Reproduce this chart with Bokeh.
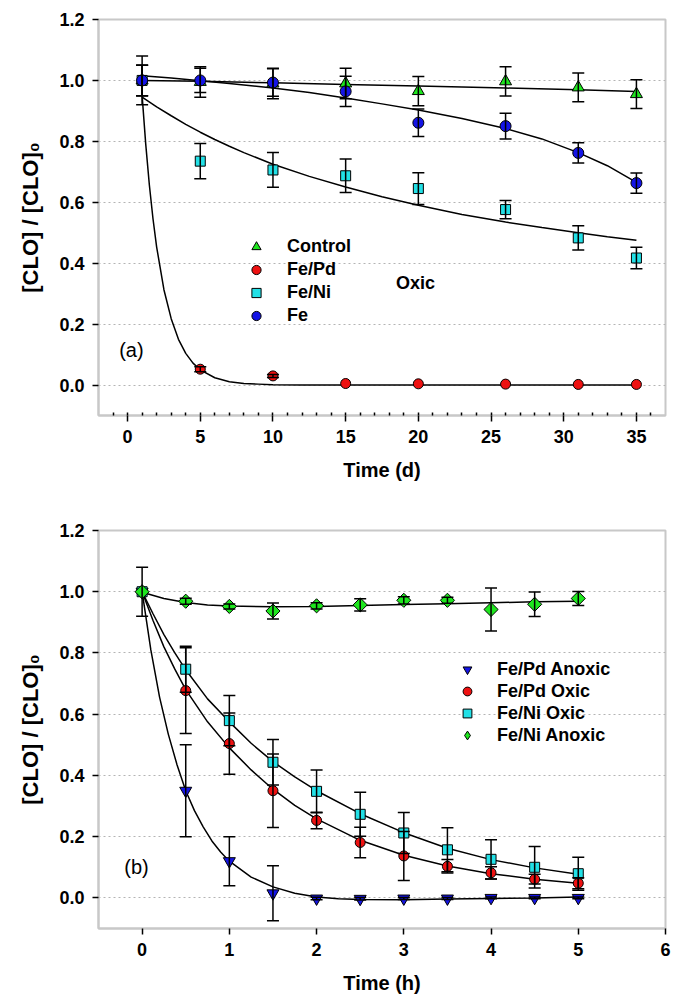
import math
from bokeh.plotting import figure
from bokeh.models import (ColumnDataSource, Whisker, TeeHead, FixedTicker, Legend,
                          LegendItem, Label, PrintfTickFormatter, Range1d)
from bokeh.layouts import column
from bokeh.embed import file_html
from bokeh.resources import INLINE

FONT = "Liberation Sans"

# ---------------- Panel (a): Oxic, time in days ----------------
days = [1, 5, 10, 15, 20, 26, 31, 35]
control = [1.0, 0.995, 0.99, 0.99, 0.965, 0.997, 0.977, 0.955]
control_err = [0.08, 0.05, 0.05, 0.05, 0.048, 0.048, 0.047, 0.047]
fepd_a = [1.0, 0.052, 0.03, 0.005, 0.004, 0.003, 0.002, 0.002]
fepd_a_err = [0.05, 0.008, 0.005, 0.0, 0.0, 0.0, 0.0, 0.0]
feni_a = [1.0, 0.735, 0.706, 0.687, 0.645, 0.576, 0.483, 0.417]
feni_a_err = [0.05, 0.058, 0.057, 0.055, 0.052, 0.03, 0.04, 0.035]
fe = [1.0, 1.0, 0.993, 0.964, 0.861, 0.85, 0.762, 0.663]
fe_err = [0.05, 0.04, 0.045, 0.05, 0.045, 0.042, 0.033, 0.033]

# fitted curves
ctrl_fit_x = [1, 5, 10, 15, 20, 26, 31, 35]
ctrl_fit_y = [1.000, 0.997, 0.992, 0.987, 0.982, 0.975, 0.969, 0.964]
fe_fit_x = [1, 3, 5, 7, 10, 12.5, 15, 17.5, 20, 23, 26, 28.5, 31, 33, 35]
fe_fit_y = [1.015, 1.008, 0.999, 0.99, 0.975, 0.96, 0.942, 0.923, 0.903, 0.875,
            0.842, 0.808, 0.763, 0.72, 0.665]
feni_fit_x = [1, 2, 3, 4, 5, 6, 7, 8, 10, 12.5, 15, 17.5, 20, 23, 26, 28.5, 31, 33, 35]
feni_fit_y = [0.945, 0.913, 0.884, 0.856, 0.83, 0.806, 0.784, 0.763, 0.725, 0.685,
              0.65, 0.618, 0.59, 0.56, 0.535, 0.517, 0.50, 0.487, 0.475]
fepd_fit_x = [1, 1.25, 1.5, 1.75, 2, 2.5, 3, 3.5, 4, 4.5, 5, 6, 7, 8, 9, 10, 12, 15,
              20, 26, 31, 35]
fepd_fit_y = [0.95, 0.79, 0.656, 0.545, 0.453, 0.313, 0.218, 0.150, 0.104, 0.072,
              0.050, 0.024, 0.011, 0.005, 0.003, 0.001, 0.0, 0.0, 0.0, 0.0, 0.0, 0.0]

# ---------------- Panel (b): time in hours ----------------
hours = [0, 0.5, 1, 1.5, 2, 2.5, 3, 3.5, 4, 4.5, 5]
fepd_anox = [1.0, 0.35, 0.12, 0.015, -0.002, -0.003, -0.002, -0.002, 0.0, 0.0, 0.0]
fepd_anox_err = [0.0, 0.15, 0.08, 0.09, 0.004, 0.004, 0.003, 0.003, 0.003, 0.003, 0.003]
fepd_ox = [1.0, 0.677, 0.504, 0.35, 0.253, 0.181, 0.137, 0.103, 0.082, 0.061, 0.048]
fepd_ox_err = [0.0, 0.14, 0.1, 0.12, 0.027, 0.05, 0.08, 0.022, 0.02, 0.016, 0.018]
feni_ox = [1.0, 0.747, 0.579, 0.443, 0.348, 0.273, 0.212, 0.157, 0.126, 0.10, 0.079]
feni_ox_err = [0.0, 0.075, 0.082, 0.074, 0.07, 0.072, 0.067, 0.072, 0.064, 0.068, 0.054]
feni_anox = [1.0, 0.969, 0.952, 0.937, 0.954, 0.957, 0.972, 0.972, 0.942, 0.959, 0.978]
feni_anox_err = [0.08, 0.01, 0.008, 0.026, 0.01, 0.02, 0.012, 0.01, 0.07, 0.04, 0.023]

fepd_anox_fit_x = [0, 0.1, 0.2, 0.3, 0.4, 0.5, 0.6, 0.7, 0.8, 0.9, 1.0, 1.25, 1.5,
                   1.75, 2, 2.25, 2.5, 3, 3.5, 4, 4.5, 5]
fepd_anox_fit_y = [1.0, 0.81, 0.656, 0.535, 0.435, 0.35, 0.285, 0.232, 0.186, 0.15,
                   0.12, 0.068, 0.036, 0.015, 0.003, -0.003, -0.005, -0.006, -0.004,
                   -0.002, 0.0, 0.003]
ox_fit_x = [0, 0.125, 0.25, 0.375, 0.5, 0.75, 1, 1.25, 1.5, 1.75, 2, 2.5, 3, 3.5, 4, 4.5, 5]
fepd_ox_fit_y = [1.0, 0.906, 0.82, 0.747, 0.68, 0.575, 0.49, 0.418, 0.355, 0.302, 0.258,
                 0.188, 0.139, 0.104, 0.079, 0.061, 0.048]
feni_ox_fit_y = [1.0, 0.928, 0.86, 0.80, 0.745, 0.65, 0.575, 0.505, 0.445, 0.395, 0.35,
                 0.275, 0.213, 0.162, 0.125, 0.098, 0.077]
feni_anox_fit_x = [0, 0.25, 0.5, 0.75, 1, 1.5, 2, 2.5, 3, 3.5, 4, 4.5, 5]
feni_anox_fit_y = [0.998, 0.978, 0.965, 0.957, 0.953, 0.951, 0.952, 0.955, 0.958,
                   0.961, 0.964, 0.967, 0.969]

y_ticks = [0.0, 0.2, 0.4, 0.6, 0.8, 1.0, 1.2]
grid_ticks = [0.0, 0.2, 0.4, 0.6, 0.8, 1.0]
x_ticks_a = [0, 5, 10, 15, 20, 25, 30, 35]
x_ticks_b = [0, 1, 2, 3, 4, 5, 6]

GREEN = "#1ee61e"
RED = "#ee1111"
CYAN = "#22e0e6"
BLUE = "#1414e6"
FRAME = "#c8c8c8"


def make_fig(xr, fh, bt, bb, xlabel):
    p = figure(frame_width=567, frame_height=fh, min_border_left=98, min_border_right=6,
               min_border_top=bt, min_border_bottom=bb,
               x_range=Range1d(*xr), y_range=Range1d(-0.1, 1.2),
               output_backend="svg", toolbar_location=None)
    p.outline_line_color = FRAME
    p.outline_line_width = 2
    p.xgrid.visible = False
    p.ygrid.ticker = FixedTicker(ticks=grid_ticks)
    p.ygrid.grid_line_color = "#b4b4b4"
    p.ygrid.grid_line_dash = "2 3"
    p.ygrid.grid_line_width = 1
    for ax in (p.xaxis[0], p.yaxis[0]):
        ax.axis_line_color = FRAME
        ax.axis_line_width = 2
        ax.major_tick_line_color = "black"
        ax.major_tick_line_width = 1.5
        ax.major_tick_in = 0
        ax.major_tick_out = 6
        ax.minor_tick_line_color = None
        ax.major_label_text_font = FONT
        ax.major_label_text_font_style = "bold"
        ax.major_label_text_font_size = "18px"
        ax.major_label_text_color = "black"
        ax.axis_label_text_font = FONT
        ax.axis_label_text_font_style = "bold"
        ax.axis_label_text_font_size = "20px"
        ax.axis_label_text_color = "black"
    p.yaxis.ticker = FixedTicker(ticks=y_ticks)
    p.yaxis.formatter = PrintfTickFormatter(format="%.1f")
    p.yaxis.major_label_standoff = 8
    p.yaxis.axis_label = "[CLO] / [CLO]\u2080"
    p.yaxis.axis_label_text_font_size = "22px"
    p.yaxis.axis_label_standoff = 13
    p.xaxis.axis_label = xlabel
    p.xaxis.major_label_standoff = 8
    p.xaxis.axis_label_standoff = 13
    return p


def errbars(p, xs, ys, es):
    pts = [(x, y, e) for x, y, e in zip(xs, ys, es) if e > 0]
    src = ColumnDataSource(dict(x=[a for a, _, _ in pts],
                                upper=[b + c for _, b, c in pts],
                                lower=[b - c for _, b, c in pts]))
    w = Whisker(source=src, base="x", upper="upper", lower="lower",
                line_color="black", line_width=1.5, level="annotation",
                upper_head=TeeHead(size=12, line_color="black", line_width=1.5),
                lower_head=TeeHead(size=12, line_color="black", line_width=1.5))
    p.add_layout(w)


# ---------------- figure (a) ----------------
pa = make_fig((-2, 37), 396, 19, 73, "Time (d)")
pa.xaxis.ticker = FixedTicker(ticks=x_ticks_a, minor_ticks=list(range(-1, 37)))
pa.xaxis.minor_tick_line_color = "black"
pa.xaxis.minor_tick_line_width = 1.5
pa.xaxis.minor_tick_in = 3
pa.xaxis.minor_tick_out = 0

for fx, fy in ((fepd_fit_x, fepd_fit_y), (feni_fit_x, feni_fit_y),
               (ctrl_fit_x, ctrl_fit_y), (fe_fit_x, fe_fit_y)):
    pa.line(fx, fy, line_color="black", line_width=1.5)

r_pd = pa.scatter(days, fepd_a, marker="circle", size=10, fill_color=RED, line_color="black")
r_ni = pa.scatter(days, feni_a, marker="square", size=10, fill_color=CYAN, line_color="black")
r_ct = pa.scatter(days, control, marker="triangle", size=12, fill_color=GREEN, line_color="black")
r_fe = pa.scatter(days, fe, marker="circle", size=11, fill_color=BLUE, line_color="black")
for ys, es in ((fepd_a, fepd_a_err), (feni_a, feni_a_err), (control, control_err), (fe, fe_err)):
    errbars(pa, days, ys, es)

leg_a = Legend(items=[LegendItem(label="Control", renderers=[r_ct]),
                      LegendItem(label="Fe/Pd", renderers=[r_pd]),
                      LegendItem(label="Fe/Ni", renderers=[r_ni]),
                      LegendItem(label="Fe", renderers=[r_fe])],
               location=(146, 88), padding=0, margin=0, spacing=0,
               glyph_width=24, glyph_height=23, label_height=23, label_standoff=19,
               label_text_font=FONT, label_text_font_style="bold",
               label_text_font_size="18px", label_text_color="black",
               border_line_alpha=0, background_fill_alpha=0)
pa.add_layout(leg_a)
pa.add_layout(Label(x=19.8, y=0.335, text="Oxic", text_font=FONT, text_font_style="bold",
                    text_color="black",
                    text_font_size="18px", text_align="center", text_baseline="middle"))
pa.add_layout(Label(x=0.26, y=0.115, text="(a)", text_font=FONT, text_color="black",
                    text_font_size="20px", text_align="center", text_baseline="middle"))

# ---------------- figure (b) ----------------
pb = make_fig((-0.5, 6), 398, 42, 62, "Time (h)")
pb.xaxis.ticker = FixedTicker(ticks=x_ticks_b)

pb.line(fepd_anox_fit_x, fepd_anox_fit_y, line_color="black", line_width=1.5)
pb.line(ox_fit_x, fepd_ox_fit_y, line_color="black", line_width=1.5)
pb.line(ox_fit_x, feni_ox_fit_y, line_color="black", line_width=1.5)
pb.line(feni_anox_fit_x, feni_anox_fit_y, line_color="black", line_width=1.5)

r_pda = pb.scatter(hours, fepd_anox, marker="inverted_triangle", size=12, fill_color=BLUE, line_color="black")
r_pdo = pb.scatter(hours, fepd_ox, marker="circle", size=10, fill_color=RED, line_color="black")
r_nio = pb.scatter(hours, feni_ox, marker="square", size=10, fill_color=CYAN, line_color="black")
r_nia = pb.scatter(hours, feni_anox, marker="square", angle=math.pi / 4, size=10,
                   fill_color=GREEN, line_color="black")
# legend-only glyph (diamond shape), not drawn in the plot area
r_nia_leg = pb.scatter(hours, feni_anox, marker="diamond", size=14,
                       fill_color=GREEN, line_color="black", visible=False)
for ys, es in ((fepd_anox, fepd_anox_err), (fepd_ox, fepd_ox_err),
               (feni_ox, feni_ox_err), (feni_anox, feni_anox_err)):
    errbars(pb, hours, ys, es)

leg_b = Legend(items=[LegendItem(label="Fe/Pd Anoxic", renderers=[r_pda]),
                      LegendItem(label="Fe/Pd Oxic", renderers=[r_pdo]),
                      LegendItem(label="Fe/Ni Oxic", renderers=[r_nio]),
                      LegendItem(label="Fe/Ni Anoxic", renderers=[r_nia_leg])],
               location=(357, 182), padding=0, margin=0, spacing=0,
               glyph_width=24, glyph_height=22, label_height=22, label_standoff=18,
               label_text_font=FONT, label_text_font_style="bold",
               label_text_font_size="18px", label_text_color="black",
               border_line_alpha=0, background_fill_alpha=0,
               inactive_fill_alpha=0)
pb.add_layout(leg_b)
pb.add_layout(Label(x=-0.065, y=0.10, text="(b)", text_font=FONT, text_color="black",
                    text_font_size="20px", text_align="center", text_baseline="middle"))

layout = column(pa, pb)
open("out.html", "w").write(file_html(layout, INLINE))
